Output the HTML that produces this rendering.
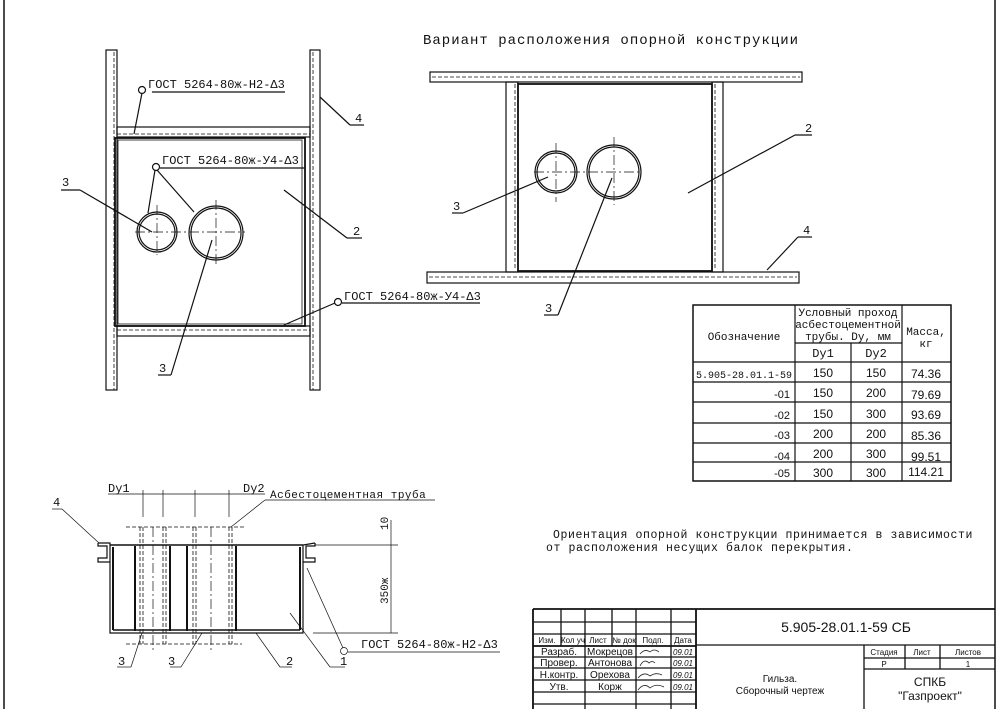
<!DOCTYPE html>
<html><head><meta charset="utf-8"><style>
html,body{margin:0;padding:0;background:#fff;width:1003px;height:709px;overflow:hidden}
svg{display:block}
text{font-family:"Liberation Sans",sans-serif;fill:#111}
.m{font-family:"Liberation Mono",monospace}
</style></head><body>
<svg width="1003" height="709" viewBox="0 0 1003 709" xmlns="http://www.w3.org/2000/svg">
<g stroke="#111" fill="none" stroke-width="1.2">
<!-- frame -->
<line x1="4" y1="0" x2="4" y2="709" stroke-width="1.5"/>
<line x1="995" y1="0" x2="995" y2="709" stroke-width="1.5"/>

<!-- LEFT PLAN VIEW -->
<rect x="106" y="50" width="11" height="340"/>
<line x1="114" y1="52" x2="114" y2="390" stroke-dasharray="4,2" stroke-width="0.8"/>
<rect x="310" y="50" width="10" height="340"/>
<line x1="313" y1="52" x2="313" y2="390" stroke-dasharray="4,2" stroke-width="0.8"/>
<rect x="117" y="127" width="193" height="10"/>
<line x1="117" y1="134" x2="310" y2="134" stroke-dasharray="4,2" stroke-width="0.8"/>
<rect x="117" y="326" width="193" height="10"/>
<line x1="117" y1="330" x2="310" y2="330" stroke-dasharray="4,2" stroke-width="0.8"/>
<rect x="115" y="138" width="190" height="188" stroke-width="1.8"/>
<rect x="118" y="140" width="184" height="184" stroke-width="0.8"/>
<circle cx="157" cy="232" r="20" stroke-width="1.2"/>
<circle cx="157" cy="232" r="18" stroke-width="1.2"/>
<circle cx="216" cy="233" r="27" stroke-width="1.2"/>
<circle cx="216" cy="233" r="25" stroke-width="1.2"/>
<g stroke-dasharray="10,3,2,3" stroke-width="0.7">
<line x1="135" y1="232" x2="245" y2="232"/>
<line x1="157" y1="205" x2="157" y2="255"/>
<line x1="216" y1="200" x2="216" y2="265"/>
</g>
<!-- leaders left -->
<line x1="61" y1="190" x2="80" y2="190"/><line x1="80" y1="190" x2="152" y2="232"/>
<line x1="152" y1="92" x2="285" y2="92"/><circle cx="142" cy="90" r="3.5"/><line x1="142" y1="93" x2="134" y2="134"/>
<line x1="160" y1="168" x2="305" y2="168"/><circle cx="156" cy="167" r="3.5"/>
<line x1="155" y1="170" x2="148" y2="213"/><line x1="157" y1="170" x2="194" y2="212"/>
<line x1="320" y1="97" x2="350" y2="125"/><line x1="350" y1="125" x2="364" y2="125"/>
<line x1="284" y1="190" x2="347" y2="238"/><line x1="347" y1="238" x2="362" y2="238"/>
<line x1="342" y1="303" x2="480" y2="303"/><circle cx="338" cy="302" r="3.5"/><line x1="335" y1="303" x2="284" y2="325"/>
<line x1="158" y1="375" x2="171" y2="375"/><line x1="171" y1="375" x2="212" y2="240"/>

<!-- RIGHT PLAN VIEW -->
<rect x="430" y="72" width="372" height="10"/>
<line x1="432" y1="77" x2="800" y2="77" stroke-dasharray="4,2" stroke-width="0.8"/>
<rect x="427" y="272" width="372" height="11"/>
<line x1="429" y1="277" x2="797" y2="277" stroke-dasharray="4,2" stroke-width="0.8"/>
<rect x="506" y="82" width="12" height="190"/>
<line x1="515" y1="84" x2="515" y2="270" stroke-dasharray="4,2" stroke-width="0.8"/>
<rect x="712" y="82" width="11" height="190"/>
<line x1="715" y1="84" x2="715" y2="270" stroke-dasharray="4,2" stroke-width="0.8"/>
<rect x="518" y="84" width="194" height="187" stroke-width="1.8"/>
<circle cx="556" cy="172" r="21"/><circle cx="556" cy="172" r="19"/>
<circle cx="614" cy="172" r="27"/><circle cx="614" cy="172" r="25"/>
<g stroke-dasharray="10,3,2,3" stroke-width="0.7">
<line x1="534" y1="172" x2="640" y2="172"/>
<line x1="556" y1="143" x2="556" y2="202"/>
<line x1="614" y1="137" x2="614" y2="205"/>
</g>
<line x1="452" y1="213" x2="463" y2="213"/><line x1="463" y1="213" x2="548" y2="177"/>
<line x1="544" y1="315" x2="558" y2="315"/><line x1="558" y1="315" x2="612" y2="178"/>
<line x1="688" y1="193" x2="795" y2="135"/><line x1="795" y1="135" x2="812" y2="135"/>
<line x1="767" y1="270" x2="798" y2="237"/><line x1="798" y1="237" x2="812" y2="237"/>

<!-- TABLE -->
<rect x="693" y="305" width="258" height="176" stroke-width="1.5"/>
<line x1="795" y1="305" x2="795" y2="481"/>
<line x1="902" y1="305" x2="902" y2="481"/>
<line x1="851" y1="343" x2="851" y2="481"/>
<line x1="795" y1="343" x2="902" y2="343"/>
<line x1="693" y1="362" x2="951" y2="362"/>
<line x1="693" y1="382" x2="951" y2="382"/>
<line x1="693" y1="402" x2="951" y2="402"/>
<line x1="693" y1="423" x2="951" y2="423"/>
<line x1="693" y1="443" x2="951" y2="443"/>
<line x1="693" y1="462" x2="951" y2="462"/>

<!-- SECTION -->
<line x1="110" y1="545" x2="303" y2="545" stroke-width="1.5"/>
<path d="M98 543 L110 543 L110 633 L303 633 L303 545 L315 543"/>
<path d="M98 543 L98 546 L107 546 L107 558 L98 558 L98 562 L110 562"/>
<path d="M315 543 L315 546 L306 546 L306 558 L315 558 L315 562 L303 562"/>
<line x1="113" y1="547" x2="113" y2="630" stroke-width="2"/>
<line x1="300" y1="547" x2="300" y2="630" stroke-width="2"/>
<line x1="113" y1="630" x2="300" y2="630" stroke-width="1.5"/>
<g stroke-width="2"><line x1="135" y1="546" x2="135" y2="631"/><line x1="170" y1="546" x2="170" y2="631"/><line x1="187" y1="546" x2="187" y2="631"/><line x1="236" y1="546" x2="236" y2="631"/></g>
<g stroke-dasharray="4,2" stroke-width="0.8">
<line x1="140" y1="527" x2="140" y2="644"/><line x1="143" y1="527" x2="143" y2="644"/>
<line x1="163" y1="527" x2="163" y2="644"/><line x1="166" y1="527" x2="166" y2="644"/>
<line x1="193" y1="527" x2="193" y2="644"/><line x1="196" y1="527" x2="196" y2="644"/>
<line x1="229" y1="527" x2="229" y2="644"/><line x1="232" y1="527" x2="232" y2="644"/>
<line x1="126" y1="527" x2="245" y2="527"/><line x1="126" y1="644" x2="242" y2="644"/>
</g>
<g stroke-dasharray="10,3,2,3" stroke-width="0.7"><line x1="153" y1="527" x2="153" y2="652"/><line x1="211" y1="527" x2="211" y2="652"/></g>
<g stroke-width="0.7">
<line x1="143" y1="490" x2="143" y2="517"/><line x1="163" y1="490" x2="163" y2="517"/>
<line x1="195" y1="490" x2="195" y2="517"/><line x1="229" y1="490" x2="229" y2="517"/>
<line x1="108" y1="494" x2="265" y2="494"/>
<line x1="265" y1="500" x2="435" y2="500"/><line x1="265" y1="500" x2="231" y2="527"/>
<line x1="52" y1="509" x2="62" y2="509"/><line x1="62" y1="509" x2="99" y2="543"/>
<line x1="315" y1="545" x2="398" y2="545"/><line x1="313" y1="633" x2="398" y2="633"/>
<line x1="391" y1="520" x2="391" y2="633"/>
<line x1="348" y1="652" x2="500" y2="652"/><circle cx="344" cy="651" r="3.5"/><line x1="343" y1="648" x2="307" y2="568"/>
<line x1="117" y1="667" x2="131" y2="667"/><line x1="131" y1="667" x2="142" y2="633"/>
<line x1="170" y1="667" x2="181" y2="667"/><line x1="181" y1="667" x2="202" y2="633"/>
<line x1="256" y1="633" x2="280" y2="667"/><line x1="280" y1="667" x2="292" y2="667"/>
<line x1="290" y1="613" x2="330" y2="667"/><line x1="330" y1="667" x2="345" y2="667"/>
</g>

<!-- TITLE BLOCK -->
<g stroke-width="1.3">
<line x1="533" y1="609" x2="995" y2="609" stroke-width="1.8"/>
<line x1="533" y1="609" x2="533" y2="709" stroke-width="1.8"/>
<line x1="696" y1="609" x2="696" y2="709" stroke-width="1.8"/>
<line x1="864" y1="645" x2="864" y2="709"/>
<line x1="696" y1="645" x2="995" y2="645"/>
<line x1="864" y1="658" x2="995" y2="658"/>
<line x1="864" y1="669" x2="995" y2="669"/>
<line x1="905" y1="645" x2="905" y2="669"/><line x1="940" y1="645" x2="940" y2="669"/>
<line x1="533" y1="622" x2="696" y2="622"/><line x1="533" y1="634" x2="696" y2="634"/>
<line x1="533" y1="646" x2="696" y2="646" stroke-width="1.8"/>
<line x1="533" y1="657" x2="696" y2="657"/><line x1="533" y1="668" x2="696" y2="668"/>
<line x1="533" y1="680" x2="696" y2="680"/><line x1="533" y1="692" x2="696" y2="692"/>
<line x1="533" y1="704" x2="696" y2="704"/>
<line x1="561" y1="609" x2="561" y2="646"/><line x1="585" y1="609" x2="585" y2="709"/>
<line x1="612" y1="609" x2="612" y2="646"/><line x1="636" y1="609" x2="636" y2="709"/>
<line x1="671" y1="609" x2="671" y2="709"/>
</g>
</g>

<g font-size="13">
<text x="423" y="44" class="m" font-size="14" letter-spacing="1">Вариант расположения опорной конструкции</text>
<text x="148" y="88" class="m" font-size="12">ГОСТ 5264-80ж-Н2-Δ3</text>
<text x="162" y="164" class="m" font-size="12">ГОСТ 5264-80ж-У4-Δ3</text>
<text x="344" y="300" class="m" font-size="12">ГОСТ 5264-80ж-У4-Δ3</text>
<text x="361" y="648" class="m" font-size="12">ГОСТ 5264-80ж-Н2-Δ3</text>
<text x="62" y="186" class="m" font-size="12">3</text>
<text x="355" y="122" class="m" font-size="12">4</text>
<text x="353" y="235" class="m" font-size="12">2</text>
<text x="159" y="372" class="m" font-size="12">3</text>
<text x="453" y="210" class="m" font-size="12">3</text>
<text x="545" y="312" class="m" font-size="12">3</text>
<text x="805" y="132" class="m" font-size="12">2</text>
<text x="803" y="234" class="m" font-size="12">4</text>
<text x="53" y="506" class="m" font-size="12">4</text>
<text x="118" y="665" class="m" font-size="12">3</text>
<text x="168" y="665" class="m" font-size="12">3</text>
<text x="286" y="665" class="m" font-size="12">2</text>
<text x="340" y="665" class="m" font-size="12">1</text>
<text x="108" y="492" class="m" font-size="12">Dy1</text>
<text x="243" y="492" class="m" font-size="12">Dy2</text>
<text x="270" y="498" class="m" font-size="11" letter-spacing="0.5">Асбестоцементная труба</text>
<text transform="translate(388,530) rotate(-90)" class="m" font-size="11">10</text>
<text transform="translate(388,604) rotate(-90)" class="m" font-size="11">350ж</text>
<text x="553" y="538" class="m" font-size="11.5" letter-spacing="0.6">Ориентация опорной конструкции принимается в зависимости</text>
<text x="546" y="551" class="m" font-size="11.5" letter-spacing="0.6">от расположения несущих балок перекрытия.</text>
</g>

<g class="m" font-size="11" text-anchor="middle">
<text x="744" y="340" class="m">Обозначение</text>
<text x="848" y="316" class="m">Условный проход</text>
<text x="848" y="328" class="m">асбестоцементной</text>
<text x="848" y="340" class="m">трубы. Dy, мм</text>
<text x="926" y="335" class="m">Масса,</text>
<text x="926" y="347" class="m">кг</text>
<text x="823" y="357" class="m" font-size="12">Dy1</text>
<text x="876" y="357" class="m" font-size="12">Dy2</text>
<text x="744" y="378" class="m" font-size="10">5.905-28.01.1-59</text>
<g font-size="12">
<text x="823" y="377">150</text><text x="876" y="377">150</text><text x="926" y="378">74.36</text>
<text x="823" y="397">150</text><text x="876" y="397">200</text><text x="926" y="399">79.69</text>
<text x="823" y="418">150</text><text x="876" y="418">300</text><text x="926" y="419">93.69</text>
<text x="823" y="438">200</text><text x="876" y="438">200</text><text x="926" y="440">85.36</text>
<text x="823" y="458">200</text><text x="876" y="458">300</text><text x="926" y="461">99.51</text>
<text x="823" y="477">300</text><text x="876" y="477">300</text><text x="926" y="476">114.21</text>
</g>
<g text-anchor="end">
<text x="790" y="398">-01</text><text x="790" y="419">-02</text><text x="790" y="439">-03</text>
<text x="790" y="460">-04</text><text x="790" y="477">-05</text>
</g>
</g>

<g font-size="8" text-anchor="middle">
<text x="547" y="643">Изм.</text><text x="573" y="643">Кол уч</text><text x="598" y="643">Лист</text>
<text x="624" y="643">№ док</text><text x="653" y="643">Подп.</text><text x="683" y="643">Дата</text>
<g font-size="10">
<text x="559" y="655">Разраб.</text><text x="610" y="655">Мокрецов</text>
<text x="559" y="666">Провер.</text><text x="610" y="666">Антонова</text>
<text x="559" y="678">Н.контр.</text><text x="610" y="678">Орехова</text>
<text x="559" y="690">Утв.</text><text x="610" y="690">Корж</text>
</g>
<g font-size="8" font-style="italic"><text x="683" y="655">09.01</text><text x="683" y="666">09.01</text><text x="683" y="678">09.01</text><text x="683" y="690">09.01</text></g>
<text x="846" y="632" font-size="14">5.905-28.01.1-59 СБ</text>
<text x="780" y="682" font-size="10">Гильза.</text>
<text x="780" y="694" font-size="10">Сборочный чертеж</text>
<text x="884" y="655">Стадия</text><text x="922" y="655">Лист</text><text x="968" y="655">Листов</text>
<text x="884" y="667">Р</text><text x="968" y="667">1</text>
<text x="930" y="686" font-size="12">СПКБ</text>
<text x="930" y="700" font-size="12">"Газпроект"</text>
</g>
<g stroke="#222" fill="none" stroke-width="0.8">
<path d="M640 654 q5 -6 10 -2 q4 -4 9 0"/>
<path d="M640 666 q4 -8 9 -3 q3 -3 6 0"/>
<path d="M638 678 q6 -7 12 -2 q6 -4 12 -1"/>
<path d="M638 690 q6 -8 12 -2 q6 -5 14 -1"/>
</g>
</svg>
</body></html>
